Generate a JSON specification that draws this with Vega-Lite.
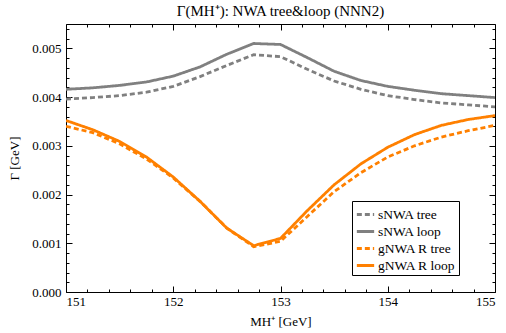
{
  "$schema": "https://vega.github.io/schema/vega-lite/v6.json",
  "width": 429,
  "height": 268,
  "autosize": "none",
  "padding": {"left": 66, "top": 24, "right": 11, "bottom": 41},
  "background": "white",
  "config": {
    "font": "Liberation Serif",
    "view": {"stroke": "black", "strokeWidth": 1},
    "axis": {"domain": false, "grid": false, "tickColor": "black", "labelColor": "black", "labelFont": "Liberation Serif", "labelFontSize": 13, "titleFont": "Liberation Serif", "titleFontWeight": "normal", "titleFontSize": 13, "titleColor": "black"}
  },
  "title": {"text": "Γ(MH⁺): NWA tree&loop (NNN2)", "font": "Liberation Serif", "fontSize": 15, "fontWeight": "normal", "color": "black", "offset": 5, "anchor": "middle"},
  "datasets": {
    "curves": [
      {"m": 151, "s": "sNWA tree", "g": 0.00396}, {"m": 151.25, "s": "sNWA tree", "g": 0.00399}, {"m": 151.5, "s": "sNWA tree", "g": 0.00403}, {"m": 151.75, "s": "sNWA tree", "g": 0.0041}, {"m": 152, "s": "sNWA tree", "g": 0.00422}, {"m": 152.25, "s": "sNWA tree", "g": 0.00442}, {"m": 152.5, "s": "sNWA tree", "g": 0.00465}, {"m": 152.75, "s": "sNWA tree", "g": 0.00487}, {"m": 153, "s": "sNWA tree", "g": 0.00483}, {"m": 153.25, "s": "sNWA tree", "g": 0.00457}, {"m": 153.5, "s": "sNWA tree", "g": 0.00433}, {"m": 153.75, "s": "sNWA tree", "g": 0.00416}, {"m": 154, "s": "sNWA tree", "g": 0.00403}, {"m": 154.25, "s": "sNWA tree", "g": 0.00395}, {"m": 154.5, "s": "sNWA tree", "g": 0.00388}, {"m": 154.75, "s": "sNWA tree", "g": 0.00384}, {"m": 155, "s": "sNWA tree", "g": 0.0038},
      {"m": 151, "s": "sNWA loop", "g": 0.00416}, {"m": 151.25, "s": "sNWA loop", "g": 0.00419}, {"m": 151.5, "s": "sNWA loop", "g": 0.00424}, {"m": 151.75, "s": "sNWA loop", "g": 0.00431}, {"m": 152, "s": "sNWA loop", "g": 0.00443}, {"m": 152.25, "s": "sNWA loop", "g": 0.00462}, {"m": 152.5, "s": "sNWA loop", "g": 0.00488}, {"m": 152.75, "s": "sNWA loop", "g": 0.0051}, {"m": 153, "s": "sNWA loop", "g": 0.00508}, {"m": 153.25, "s": "sNWA loop", "g": 0.00481}, {"m": 153.5, "s": "sNWA loop", "g": 0.00453}, {"m": 153.75, "s": "sNWA loop", "g": 0.00434}, {"m": 154, "s": "sNWA loop", "g": 0.00422}, {"m": 154.25, "s": "sNWA loop", "g": 0.00414}, {"m": 154.5, "s": "sNWA loop", "g": 0.00407}, {"m": 154.75, "s": "sNWA loop", "g": 0.00403}, {"m": 155, "s": "sNWA loop", "g": 0.00399},
      {"m": 151, "s": "gNWA R tree", "g": 0.0034}, {"m": 151.25, "s": "gNWA R tree", "g": 0.00327}, {"m": 151.5, "s": "gNWA R tree", "g": 0.00304}, {"m": 151.75, "s": "gNWA R tree", "g": 0.00273}, {"m": 152, "s": "gNWA R tree", "g": 0.00234}, {"m": 152.25, "s": "gNWA R tree", "g": 0.00186}, {"m": 152.5, "s": "gNWA R tree", "g": 0.00131}, {"m": 152.75, "s": "gNWA R tree", "g": 0.00093}, {"m": 153, "s": "gNWA R tree", "g": 0.00104}, {"m": 153.25, "s": "gNWA R tree", "g": 0.00155}, {"m": 153.5, "s": "gNWA R tree", "g": 0.00206}, {"m": 153.75, "s": "gNWA R tree", "g": 0.00245}, {"m": 154, "s": "gNWA R tree", "g": 0.00277}, {"m": 154.25, "s": "gNWA R tree", "g": 0.003}, {"m": 154.5, "s": "gNWA R tree", "g": 0.00318}, {"m": 154.75, "s": "gNWA R tree", "g": 0.00331}, {"m": 155, "s": "gNWA R tree", "g": 0.00342},
      {"m": 151, "s": "gNWA R loop", "g": 0.00352}, {"m": 151.25, "s": "gNWA R loop", "g": 0.00333}, {"m": 151.5, "s": "gNWA R loop", "g": 0.00309}, {"m": 151.75, "s": "gNWA R loop", "g": 0.00277}, {"m": 152, "s": "gNWA R loop", "g": 0.00236}, {"m": 152.25, "s": "gNWA R loop", "g": 0.00186}, {"m": 152.5, "s": "gNWA R loop", "g": 0.00131}, {"m": 152.75, "s": "gNWA R loop", "g": 0.00095}, {"m": 153, "s": "gNWA R loop", "g": 0.0011}, {"m": 153.25, "s": "gNWA R loop", "g": 0.00167}, {"m": 153.5, "s": "gNWA R loop", "g": 0.0022}, {"m": 153.75, "s": "gNWA R loop", "g": 0.00263}, {"m": 154, "s": "gNWA R loop", "g": 0.00297}, {"m": 154.25, "s": "gNWA R loop", "g": 0.00323}, {"m": 154.5, "s": "gNWA R loop", "g": 0.00342}, {"m": 154.75, "s": "gNWA R loop", "g": 0.00354}, {"m": 155, "s": "gNWA R loop", "g": 0.00362}
    ]
  },
  "data": {"name": "curves"},
  "layer": [
    {
      "mark": {"type": "line", "strokeWidth": 2.8, "clip": true},
      "encoding": {
        "x": {"field": "m", "type": "quantitative", "scale": {"domain": [151, 155], "nice": false, "zero": false},
              "axis": {"orient": "bottom", "values": [151, 152, 153, 154, 155], "tickSize": -6, "labelPadding": 9, "title": "MH⁺ [GeV]", "titlePadding": 7, "format": "d"}},
        "y": {"field": "g", "type": "quantitative", "scale": {"domain": [0, 0.0055], "nice": false},
              "axis": {"orient": "left", "values": [0, 0.001, 0.002, 0.003, 0.004, 0.005], "tickSize": -6, "labelPadding": 11, "format": ".3f", "title": "Γ [GeV]", "titlePadding": 10}},
        "color": {"field": "s", "type": "nominal", "sort": null,
                  "scale": {"domain": ["sNWA tree", "sNWA loop", "gNWA R tree", "gNWA R loop"], "range": ["#808080", "#808080", "#ff8000", "#ff8000"]},
                  "legend": {"orient": "none", "legendX": 286, "legendY": 177, "title": null, "strokeColor": "black", "fillColor": "white", "padding": 3, "symbolType": "stroke", "symbolSize": 300, "symbolStrokeWidth": 3, "labelFontSize": 13.5, "labelFont": "Liberation Serif", "labelColor": "black", "rowPadding": 0, "labelOffset": 2}},
        "strokeDash": {"field": "s", "type": "nominal", "sort": null,
                  "scale": {"domain": ["sNWA tree", "sNWA loop", "gNWA R tree", "gNWA R loop"], "range": [[5, 3], [1, 0], [5, 3], [1, 0]]},
                  "legend": {"orient": "none", "legendX": 286, "legendY": 177, "title": null, "strokeColor": "black", "fillColor": "white", "padding": 3, "symbolType": "stroke", "symbolSize": 300, "symbolStrokeWidth": 3, "labelFontSize": 13.5, "labelFont": "Liberation Serif", "labelColor": "black", "rowPadding": 0, "labelOffset": 2}}
      }
    },
    {
      "mark": {"type": "point", "opacity": 0},
      "encoding": {
        "x": {"field": "m", "type": "quantitative", "axis": {"orient": "bottom", "values": [151.2, 151.4, 151.6, 151.8, 152.2, 152.4, 152.6, 152.8, 153.2, 153.4, 153.6, 153.8, 154.2, 154.4, 154.6, 154.8], "tickSize": -3, "labels": false, "title": null}},
        "y": {"field": "g", "type": "quantitative", "axis": {"orient": "left", "values": [0.0002, 0.0004, 0.0006, 0.0008, 0.0012, 0.0014, 0.0016, 0.0018, 0.0022, 0.0024, 0.0026, 0.0028, 0.0032, 0.0034, 0.0036, 0.0038, 0.0042, 0.0044, 0.0046, 0.0048, 0.0052, 0.0054], "tickSize": -3, "labels": false, "title": null}}
      }
    },
    {
      "mark": {"type": "point", "opacity": 0},
      "encoding": {
        "x": {"field": "m", "type": "quantitative", "axis": {"orient": "top", "values": [151, 152, 153, 154, 155], "tickSize": -6, "labels": false, "title": null}},
        "y": {"field": "g", "type": "quantitative", "axis": {"orient": "right", "values": [0, 0.001, 0.002, 0.003, 0.004, 0.005], "tickSize": -6, "labels": false, "title": null}}
      }
    },
    {
      "mark": {"type": "point", "opacity": 0},
      "encoding": {
        "x": {"field": "m", "type": "quantitative", "axis": {"orient": "top", "values": [151.2, 151.4, 151.6, 151.8, 152.2, 152.4, 152.6, 152.8, 153.2, 153.4, 153.6, 153.8, 154.2, 154.4, 154.6, 154.8], "tickSize": -3, "labels": false, "title": null}},
        "y": {"field": "g", "type": "quantitative", "axis": {"orient": "right", "values": [0.0002, 0.0004, 0.0006, 0.0008, 0.0012, 0.0014, 0.0016, 0.0018, 0.0022, 0.0024, 0.0026, 0.0028, 0.0032, 0.0034, 0.0036, 0.0038, 0.0042, 0.0044, 0.0046, 0.0048, 0.0052, 0.0054], "tickSize": -3, "labels": false, "title": null}}
      }
    }
  ],
  "resolve": {"axis": {"x": "independent", "y": "independent"}}
}
